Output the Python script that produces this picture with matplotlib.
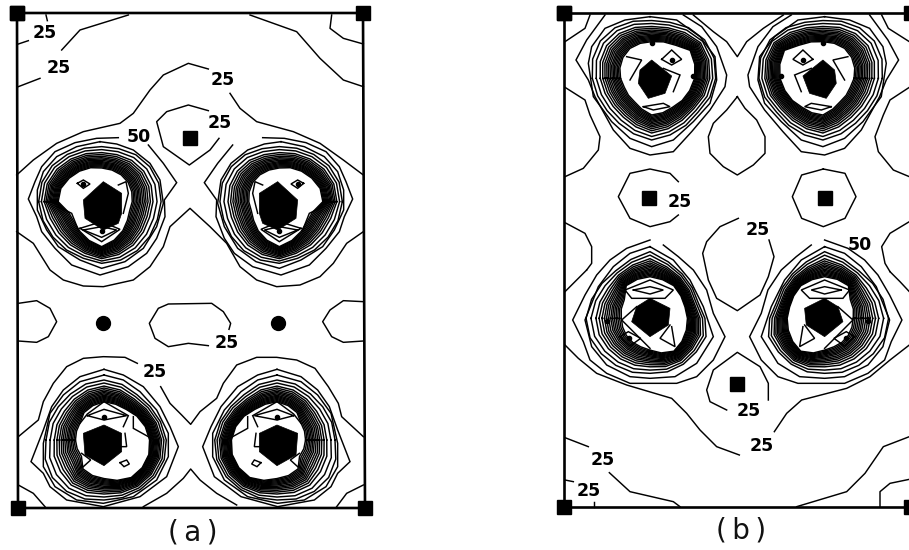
#!/usr/bin/env python3
"""Two contour maps, (a) and (b), traced off the scan. Coordinates are in 3x crop pixels."""
import matplotlib

matplotlib.use("Agg")
import matplotlib.pyplot as plt
import numpy as np

# crop offsets of the four traced regions
UPPER_A = (0, 0)
LOWER_A = (0, 270)
UPPER_B = (550, 0)
LOWER_B = (550, 270)
MIRROR_A = 190.5
MIRROR_B = 737.3

RING_LEVELS = [0, .05, .1, .15, .2, .25, .3, .36, .42, .48, .55, .63, .72, .86, 1]

# ---- panel (a), open contours ----
A_UPPER_LINES = [
    [(138, 45), (142, 62)],
    [(55, 132), (85, 122)],
    [(55, 260), (120, 235)],
    [(185, 150), (240, 90), (385, 45)],
    [(750, 45), (890, 95), (960, 175), (1030, 240), (1090, 260)],
    [(995, 45), (990, 85), (1030, 115), (1090, 132)],
    [(625, 332), (565, 315), (500, 335), (470, 365), (490, 440), (568, 495), (630, 450), (657, 415)],
    [(50, 525), (100, 480), (170, 430), (250, 395), (360, 370), (400, 340), (450, 270), (490, 225), (565, 190), (625, 207)],
    [(690, 280), (720, 325), (770, 365), (880, 395), (960, 430), (1030, 480), (1090, 525)],
    [(50, 695), (100, 730), (150, 810), (190, 840), (250, 858), (310, 860), (400, 840), (450, 800), (490, 740),
     (510, 680), (570, 625), (630, 680), (680, 730), (720, 800), (770, 840), (830, 860), (900, 855), (960, 830),
     (1000, 790), (1040, 730), (1090, 695)],
]
A_LOWER_LINES = [
    [(55, 100), (110, 92), (150, 115), (170, 155), (145, 200), (110, 217), (55, 213)],
    [(1090, 95), (1030, 92), (990, 120), (968, 155), (995, 200), (1030, 217), (1090, 213)],
    [(625, 227), (565, 220), (505, 230), (465, 205), (448, 160), (475, 115), (505, 102), (635, 100), (670, 125),
     (692, 160), (687, 178)],
    [(412, 280), (375, 262), (310, 260), (250, 265), (200, 290), (160, 340), (130, 395), (115, 450), (55, 500)],
    [(55, 645), (100, 670), (135, 710)],
    [(482, 350), (510, 400), (545, 435), (572, 463), (600, 425), (650, 385), (670, 340), (710, 285), (770, 262),
     (830, 262), (890, 270), (945, 295), (985, 350), (1015, 400), (1025, 440), (1090, 500)],
    [(1090, 645), (1040, 670), (1010, 710)],
    [(430, 710), (500, 670), (550, 625), (572, 597), (600, 630), (650, 670), (710, 705)],
]

# ---- panel (a), peak traces (left peak, the right one is its mirror image) ----
A1_CENTRE = (305, 605)
A1_CONTOURS = [
    [(355, 413), (290, 415), (225, 428), (165, 455), (125, 500), (105, 545), (85, 597), (110, 650), (125, 695),
     (165, 745), (215, 795), (300, 825), (385, 800), (440, 760), (470, 715), (495, 650), (493, 600), (530, 548),
     (490, 490), (445, 435)],
    [(300, 425), (230, 440), (170, 470), (130, 515), (112, 570), (112, 630), (140, 690), (175, 740), (240, 780),
     (305, 805), (375, 785), (430, 745), (470, 680), (490, 610), (480, 540), (450, 490), (400, 450), (350, 432),
     (300, 425)],
]
A1_OUTER = [(300, 440), (230, 452), (175, 480), (135, 525), (118, 575), (118, 630), (145, 690), (180, 735), (240, 770),
            (305, 790), (375, 775), (430, 735), (465, 675), (483, 610), (473, 540), (445, 495), (400, 460), (350, 445)]
A1_INNER = [(310, 505), (380, 540), (385, 640), (375, 680), (305, 740), (245, 700), (215, 640), (175, 620), (180, 570), (220, 525)]
A1_CORE = [(310, 545), (365, 580), (365, 640), (355, 670), (310, 690), (255, 655), (250, 600)]
A1_DETAIL = [
    [(232, 550), (250, 540), (270, 552), (250, 565), (232, 550)],
    [(355, 555), (378, 545), (385, 580), (370, 640)],
    [(175, 620), (215, 640), (235, 690)],
    [(240, 685), (305, 665), (360, 688), (305, 725), (240, 685)],
    [(250, 690), (305, 680), (350, 690), (305, 712), (250, 690)],
]
A1_DOTS = [(250, 552), (305, 692)]

A2_CENTRE = (312, 510)
A2_CONTOURS = [
    [(312, 298), (240, 320), (190, 360), (155, 410), (130, 480), (93, 575), (130, 610), (150, 650), (200, 690),
     (310, 710), (420, 680), (500, 620), (535, 530), (510, 470), (480, 410), (430, 350), (370, 315), (312, 298)],
    [(312, 315), (240, 335), (190, 375), (150, 430), (130, 520), (130, 590), (165, 650), (230, 690), (310, 700),
     (400, 680), (470, 630), (505, 560), (505, 490), (470, 420), (420, 365), (370, 330), (312, 315)],
]
A2_OUTER = [(312, 330), (240, 350), (195, 390), (155, 440), (138, 520), (138, 585), (170, 640), (230, 680), (310, 690),
            (400, 670), (465, 620), (497, 555), (497, 495), (465, 430), (415, 378), (370, 345)]
A2_INNER = [(312, 395), (250, 430), (240, 460), (245, 560), (250, 600), (310, 625), (400, 620), (445, 560), (445, 490),
            (400, 430), (370, 415)]
A2_CORE = [(312, 465), (365, 490), (365, 545), (312, 587), (255, 555), (250, 490)]
A2_DETAIL = [
    [(262, 437), (312, 418), (380, 437), (312, 450), (262, 437)],
    [(240, 460), (262, 432), (312, 395), (385, 437), (370, 470)],
    [(245, 550), (272, 570), (250, 590)],
    [(360, 578), (380, 570), (388, 582), (372, 590), (360, 578)],
    [(400, 440), (400, 475), (445, 500)],
    [(375, 490), (380, 530), (365, 530)],
]
A2_DOTS = [(312, 440)]

# ---- panel (b), open contours ----
B_UPPER_LINES = [
    [(120, 45), (105, 85), (45, 125)],
    [(995, 45), (1015, 85), (1078, 125)],
    [(430, 45), (490, 95), (530, 125), (562, 170), (590, 125), (640, 85), (700, 45)],
    [(562, 290), (530, 330), (490, 370), (475, 410), (480, 460), (520, 500), (562, 525), (610, 495), (645, 460),
     (645, 410), (620, 360), (585, 325), (562, 290)],
    [(45, 262), (105, 300), (120, 345), (150, 410), (145, 450), (100, 505), (45, 530)],
    [(1078, 262), (1020, 300), (1000, 345), (975, 410), (985, 455), (1030, 510), (1078, 530)],
    [(385, 545), (360, 520), (300, 507), (240, 520), (205, 590), (240, 655), (300, 680), (360, 665), (385, 645)],
    [(820, 507), (885, 520), (918, 590), (885, 655), (820, 680), (755, 655), (727, 590), (755, 525), (820, 507)],
    [(45, 668), (105, 700), (125, 740), (125, 790), (110, 810)],
    [(1078, 665), (1020, 700), (995, 740), (1005, 790), (1020, 815)],
]
B_LOWER_LINES = [
    [(657, -90), (672, -40), (655, 20), (630, 75), (562, 122), (500, 85), (475, 30), (458, -50), (470, -85), (510, -130),
     (565, -155)],
    [(110, 0), (80, 30), (45, 65)],
    [(1020, 5), (1050, 35), (1078, 65)],
    [(45, 225), (85, 265), (140, 310), (230, 345), (365, 385), (410, 430), (450, 480), (500, 530), (568, 555)],
    [(673, 485), (710, 430), (755, 390), (890, 355), (960, 320), (1020, 270), (1078, 225)],
    [(530, 420), (480, 395), (470, 360), (490, 300), (562, 247), (630, 290), (655, 340), (655, 390)],
    [(115, 530), (45, 503)],
    [(178, 608), (240, 665), (370, 695), (390, 710)],
    [(740, 710), (890, 665), (945, 610), (1000, 530), (1078, 500)],
    [(45, 630), (70, 635)],
    [(132, 695), (132, 710)],
    [(990, 710), (990, 665), (1020, 640), (1078, 628)],
]

# ---- panel (b), peak traces ----
B1_CENTRE = (305, 235)
B1_CONTOURS = [
    [(165, 45), (110, 120), (78, 180), (115, 240), (135, 290), (190, 390), (240, 445), (300, 465), (370, 455), (425, 395),
     (480, 330), (525, 260), (530, 225), (500, 140), (455, 80), (400, 45)],
    [(300, 50), (225, 60), (165, 85), (125, 140), (115, 190), (130, 290), (185, 365), (240, 415), (305, 440), (370, 420),
     (430, 365), (480, 310), (500, 240), (495, 170), (450, 110), (380, 60), (300, 50)],
]
B1_OUTER = [(300, 62), (225, 70), (170, 100), (135, 150), (125, 210), (140, 280), (190, 350), (240, 395), (305, 420),
            (370, 400), (440, 340), (490, 270), (498, 215), (480, 140), (430, 90), (370, 70)]
B1_INNER = [(305, 125), (240, 145), (215, 180), (225, 265), (260, 310), (305, 345), (370, 320), (420, 270), (435, 230),
            (420, 150), (370, 135)]
B1_CORE = [(305, 180), (365, 228), (345, 280), (295, 295), (265, 250), (270, 210)]
B1_DETAIL = [
    [(335, 178), (365, 150), (395, 178), (365, 195), (335, 178)],
    [(230, 170), (275, 180), (240, 240)],
    [(340, 205), (390, 225), (370, 275)],
    [(280, 320), (340, 310), (360, 320), (310, 330), (280, 320)],
]
B1_DOTS = [(305, 130), (430, 228), (365, 180)]

B2_CENTRE = (300, 145)
B2_CONTOURS = [
    [(300, -90), (230, -65), (180, -30), (140, 15), (105, 75), (68, 150), (100, 215), (120, 270), (170, 310), (240, 340),
     (300, 340), (380, 340), (440, 320), (490, 270), (525, 200), (490, 130), (470, 60), (430, 0), (385, -40), (340, -75)],
    [(300, -70), (240, -50), (190, -10), (145, 50), (105, 150), (125, 230), (170, 285), (240, 320), (300, 325), (375, 320),
     (440, 280), (490, 200), (460, 110), (420, 30), (370, -30), (300, -70)],
]
B2_OUTER = [(300, -55), (240, -30), (190, 10), (135, 70), (108, 140), (125, 215), (170, 265), (240, 305), (300, 310),
            (370, 300), (430, 255), (470, 195), (445, 100), (410, 30), (360, -20)]
B2_INNER = [(300, 20), (225, 50), (225, 85), (215, 150), (240, 210), (290, 235), (370, 245), (410, 175), (400, 100),
            (375, 50), (340, 30)]
B2_CORE = [(300, 85), (360, 115), (355, 165), (300, 200), (245, 155), (260, 110)]
B2_DETAIL = [
    [(250, 60), (300, 50), (340, 60), (300, 72), (250, 60)],
    [(225, 60), (300, 30), (370, 60), (345, 85), (245, 85), (225, 60)],
    [(260, 110), (215, 150), (300, 235)],
    [(210, 200), (235, 185), (272, 205), (240, 228), (210, 200)],
    [(360, 165), (330, 205), (375, 230), (365, 170)],
]
B2_DOTS = [(300, 245), (170, 153), (237, 205)]

# ---- markers and labels ----
A_SQUARES = [(570, 413)]
A_CIRCLES = [(310, 160), (835, 160)]
B_SQUARES_UP = [(298, 593), (826, 593)]
B_SQUARES_LOW = [(561, 343)]
A_FRAME = [(17, 13), (363, 13), (365, 508), (18, 508)]
B_FRAME = [(563.5, 13), (911, 13), (911, 507), (563.5, 507)]
LABELS = [
    ("25", UPPER_A, 133, 100), ("25", UPPER_A, 175, 205), ("25", UPPER_A, 667, 240), ("25", UPPER_A, 660, 370),
    ("50", UPPER_A, 415, 410), ("25", LOWER_A, 680, 220), ("25", LOWER_A, 463, 307),
    ("25", UPPER_B, 390, 607), ("25", UPPER_B, 623, 690), ("50", UPPER_B, 930, 735),
    ("25", LOWER_B, 595, 422), ("25", LOWER_B, 635, 528), ("25", LOWER_B, 158, 570), ("25", LOWER_B, 116, 663),
]


def to_px(pts, crop):
    a = np.asarray(pts, dtype=float)
    return a / 3 + crop


def flip(a, xm):
    b = a.copy()
    b[:, 0] = 2 * xm - b[:, 0]
    return b


def radius_table(pts, centre, angles):
    d = np.asarray(pts, dtype=float) - centre
    th = np.arctan2(d[:, 1], d[:, 0])
    r = np.hypot(d[:, 0], d[:, 1])
    o = np.argsort(th)
    return np.interp(angles, th[o], r[o], period=2 * np.pi)


def draw_peak(ax, crop, xm, centre, contours, outer, inner, core, detail, dots):
    centre = np.asarray(centre, dtype=float)
    angles = np.linspace(-np.pi, np.pi, 21)
    r_out = radius_table(outer, centre, angles)
    r_in = radius_table(inner, centre, angles)
    shapes = [to_px(c, crop) for c in contours]
    for f in RING_LEVELS:
        r = r_in + f * (r_out - r_in)
        ring = centre + np.column_stack([r * np.cos(angles), r * np.sin(angles)])
        shapes.append(to_px(ring, crop))
    shapes += [to_px(d, crop) for d in detail]
    solid = to_px(core, crop)
    spots = to_px(dots, crop)
    for m in (False, True):
        for s in shapes:
            s2 = flip(s, xm) if m else s
            ax.plot(s2[:, 0], s2[:, 1], color="k", lw=1.05, solid_joinstyle="miter")
        c2 = flip(solid, xm) if m else solid
        ax.fill(c2[:, 0], c2[:, 1], color="k", lw=0.5)
        d2 = flip(spots, xm) if m else spots
        ax.plot(d2[:, 0], d2[:, 1], "o", color="k", ms=3)


def main():
    fig = plt.figure(figsize=(9.09, 5.5), dpi=100)
    ax = fig.add_axes([0, 0, 1, 1])
    ax.set_xlim(0, 909)
    ax.set_ylim(550, 0)
    ax.axis("off")

    for lines, crop in [(A_UPPER_LINES, UPPER_A), (A_LOWER_LINES, LOWER_A),
                        (B_UPPER_LINES, UPPER_B), (B_LOWER_LINES, LOWER_B)]:
        for line in lines:
            p = to_px(line, crop)
            ax.plot(p[:, 0], p[:, 1], color="k", lw=1.05)

    draw_peak(ax, UPPER_A, MIRROR_A, A1_CENTRE, A1_CONTOURS, A1_OUTER, A1_INNER, A1_CORE, A1_DETAIL, A1_DOTS)
    draw_peak(ax, LOWER_A, MIRROR_A, A2_CENTRE, A2_CONTOURS, A2_OUTER, A2_INNER, A2_CORE, A2_DETAIL, A2_DOTS)
    draw_peak(ax, UPPER_B, MIRROR_B, B1_CENTRE, B1_CONTOURS, B1_OUTER, B1_INNER, B1_CORE, B1_DETAIL, B1_DOTS)
    draw_peak(ax, LOWER_B, MIRROR_B, B2_CENTRE, B2_CONTOURS, B2_OUTER, B2_INNER, B2_CORE, B2_DETAIL, B2_DOTS)

    for frame in (A_FRAME, B_FRAME):
        f = np.array(frame + frame[:1])
        ax.plot(f[:, 0], f[:, 1], color="k", lw=1.9, solid_capstyle="butt")
        ax.plot(f[:, 0], f[:, 1], "s", color="k", ms=10.5, ls="none")

    for pts, crop, marker, ms in [(A_SQUARES, UPPER_A, "s", 9.5), (A_CIRCLES, LOWER_A, "o", 10),
                                  (B_SQUARES_UP, UPPER_B, "s", 10), (B_SQUARES_LOW, LOWER_B, "s", 10)]:
        p = to_px(pts, crop)
        ax.plot(p[:, 0], p[:, 1], marker, color="k", ms=ms, ls="none")

    for txt, crop, x, y in LABELS:
        p = to_px([(x, y)], crop)[0]
        ax.text(p[0], p[1], txt, fontsize=12.5, fontweight="black", ha="center", va="center",
                color="k", zorder=5)

    ax.text(192.5, 532, "(\u2009a\u2009)", fontsize=20, ha="center", va="center", family="DejaVu Sans", color="#111111")
    ax.text(741, 531, "(\u2009b\u2009)", fontsize=20, ha="center", va="center", family="DejaVu Sans", color="#111111")

    fig.savefig("out.png", dpi=100)


if __name__ == "__main__":
    main()
